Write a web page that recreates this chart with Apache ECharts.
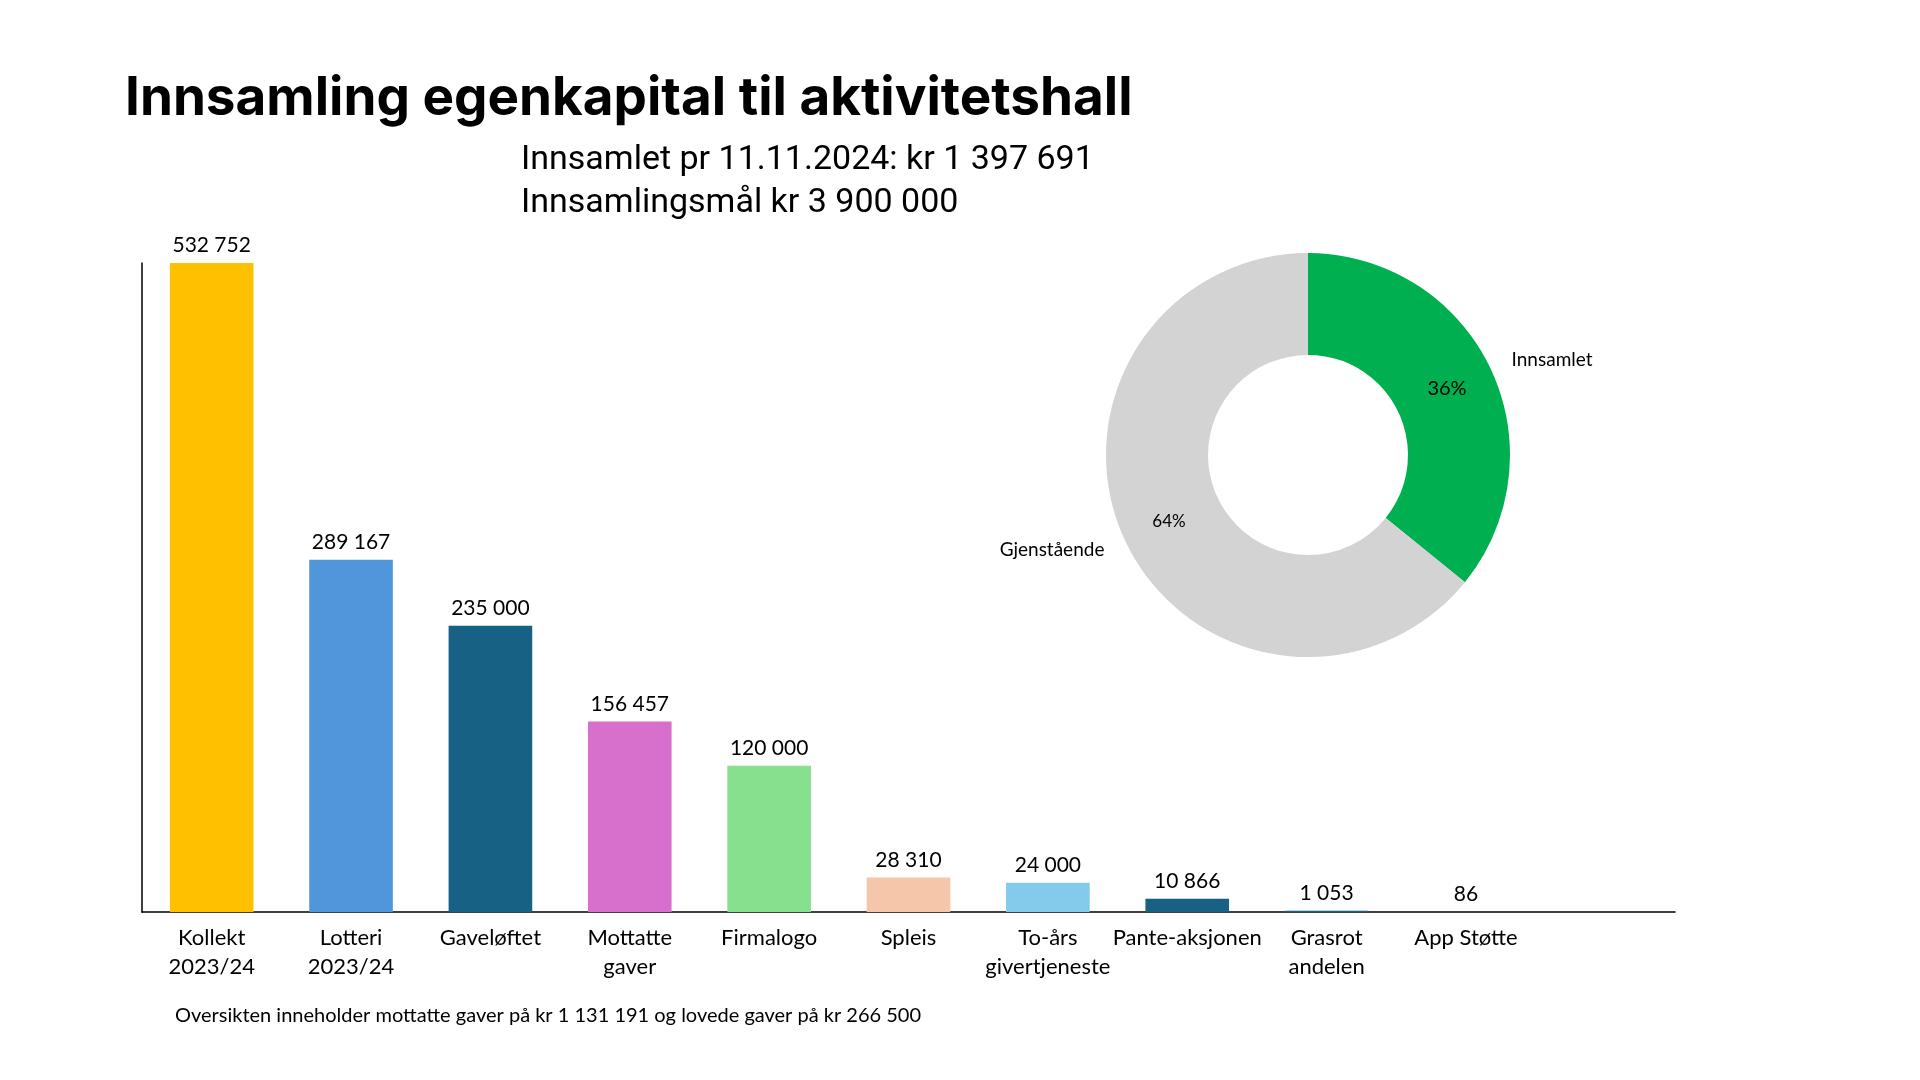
<!DOCTYPE html>
<html>
<head>
<meta charset="utf-8">
<script src="https://cdn.jsdelivr.net/npm/echarts@6/dist/echarts.min.js"></script>
<style>
html,body{margin:0;padding:0;background:#fff;}
#chart{width:1920px;height:1080px;}
</style>
</head>
<body>
<div id="chart"></div>
<script>
const titleText = 'Innsamling egenkapital til aktivitetshall';
const subtitleLines = ['Innsamlet pr 11.11.2024: kr 1 397 691', 'Innsamlingsmål kr 3 900 000'];
const footnote = 'Oversikten inneholder mottatte gaver på kr 1 131 191 og lovede gaver på kr 266 500';

const categories = ['Kollekt\n2023/24', 'Lotteri\n2023/24', 'Gaveløftet', 'Mottatte\ngaver', 'Firmalogo', 'Spleis', 'To-års\ngivertjeneste', 'Pante-aksjonen', 'Grasrot\nandelen', 'App Støtte', ''];
const values = [532752, 289167, 235000, 156457, 120000, 28310, 24000, 10866, 1053, 86, null];
const barColors = ['#FFC000', '#5096DA', '#176184', '#D76FCC', '#86E08E', '#F5C6AA', '#84CAEA', '#176184', '#176184', '#176184', '#ffffff'];

const pieNames = ['Innsamlet', 'Gjenstående'];
const pieValues = [1397691, 2502309];
const pieColors = ['#00B050', '#D3D3D3'];
const pieLabelSizes = [20, 17];

const fmt = v => String(v).replace(/\B(?=(\d{3})+(?!\d))/g, ' ');
const labelFont = 'Lato, "Noto Sans", sans-serif';

const chart = echarts.init(document.getElementById('chart'), null, {renderer: 'canvas'});
chart.setOption({
  backgroundColor: '#ffffff',
  animation: false,
  title: [
    {text: titleText, left: 120, top: 68,
     textStyle: {fontFamily: 'Inter, sans-serif', fontWeight: 'bold', fontSize: 53, color: '#000'}},
    {text: subtitleLines.join('\n'), left: 516, top: 134,
     textStyle: {fontFamily: 'Roboto, sans-serif', fontWeight: 'normal', fontSize: 34, lineHeight: 43, color: '#000'}},
    {text: footnote, left: 170, top: 1001,
     textStyle: {fontFamily: labelFont, fontWeight: 'normal', fontSize: 20, color: '#000'}}
  ],
  grid: {left: 142, top: 263, width: 1533, height: 649, containLabel: false},
  xAxis: {
    type: 'category', data: categories,
    axisLine: {show: true, lineStyle: {color: '#000', width: 1.5}},
    axisTick: {show: false},
    axisLabel: {interval: 0, margin: 11, fontFamily: labelFont, fontSize: 22, lineHeight: 29, color: '#000'}
  },
  yAxis: {
    type: 'value', min: 0, max: 532752,
    axisLine: {show: true, lineStyle: {color: '#000', width: 1.5}},
    axisTick: {show: false}, axisLabel: {show: false}, splitLine: {show: false}
  },
  series: [
    {type: 'bar', barWidth: '60%',
     data: values.map((v, i) => ({value: v, itemStyle: {color: barColors[i]}})),
     label: {show: true, position: 'top', distance: 7, fontFamily: labelFont, fontSize: 21, color: '#000',
             formatter: p => p.value == null ? '' : fmt(p.value)}},
    {type: 'pie', center: [1308, 455], radius: [100, 202], startAngle: 90, clockwise: true,
     data: pieNames.map((n, i) => ({name: n, value: pieValues[i], itemStyle: {color: pieColors[i]},
                                    label: {fontSize: pieLabelSizes[i]}})),
     label: {show: true, position: 'inside', fontFamily: labelFont, color: '#000',
             formatter: p => Math.round(p.percent) + '%'},
     labelLine: {show: false},
     emphasis: {disabled: true}, silent: true},
    {type: 'pie', center: [1308, 455], radius: [100, 202], startAngle: 90, clockwise: true,
     data: pieNames.map((n, i) => ({name: n, value: pieValues[i], itemStyle: {color: 'rgba(0,0,0,0)'}})),
     label: {show: true, position: 'outside', alignTo: 'none', fontFamily: labelFont, fontSize: 19, color: '#000',
             formatter: '{b}'},
     labelLine: {show: false, length: 18, length2: 0},
     emphasis: {disabled: true}, silent: true, z: 3}
  ]
});
</script>
</body>
</html>
